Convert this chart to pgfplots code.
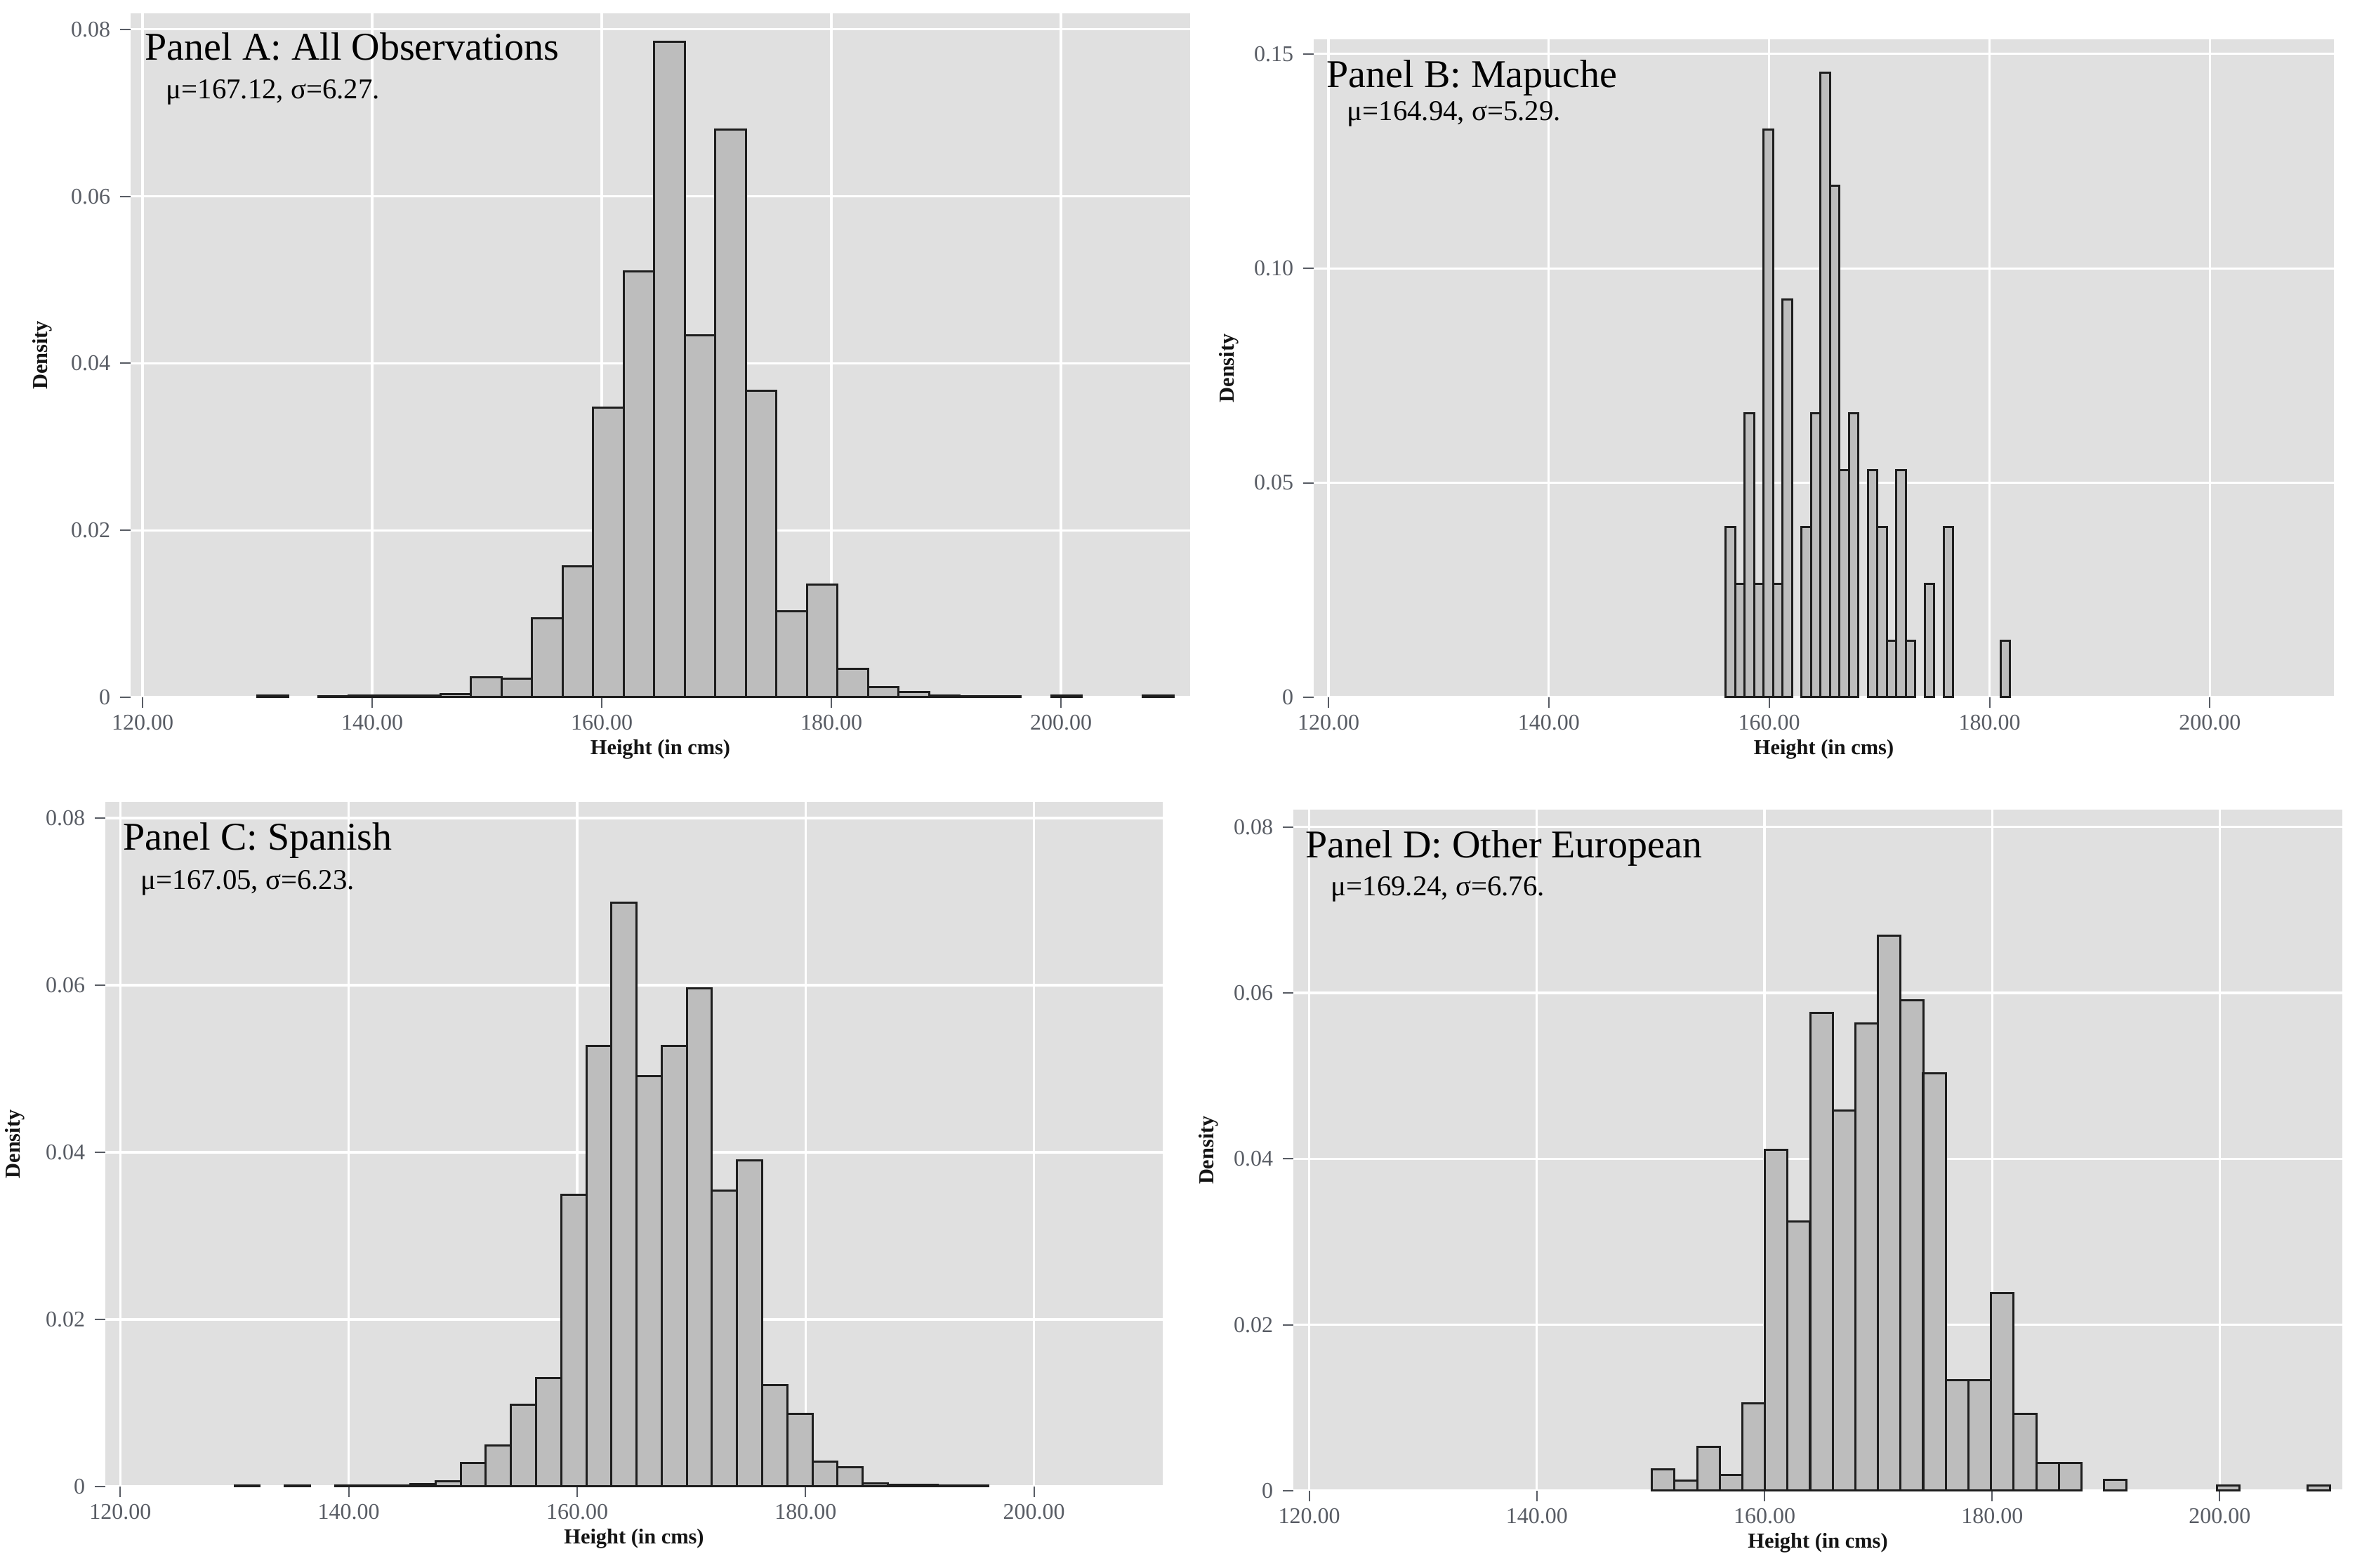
\documentclass[border=0pt]{standalone}
\usepackage{fontspec}
\setmainfont{Liberation Serif}
\usepackage{pgfplots}
\pgfplotsset{compat=1.18}
\definecolor{bgc}{RGB}{224,224,224}
\definecolor{barc}{RGB}{189,189,189}
\definecolor{barline}{RGB}{30,30,30}
\definecolor{tickc}{RGB}{88,92,100}
\tikzset{
  ttl/.style={anchor=base west, inner sep=0pt, font=\fontsize{14}{16}\selectfont, text=black},
  mu/.style={anchor=base west, inner sep=0pt, font=\fontsize{10.2}{12}\selectfont, text=black},
}
\pgfplotsset{
  panel/.style={
    scale only axis,
    anchor=south west,
    axis background/.style={fill=bgc},
    axis line style={draw=none},
    grid=major,
    major grid style={white, line width=0.8pt},
    tick style={draw=tickc, line width=0.5pt},
    tick align=outside,
    major tick length=3.75pt,
    tick pos=left,
    clip=false,
    scaled y ticks=false,
    scaled x ticks=false,
    xtick={120,140,160,180,200},
    xticklabels={120.00,140.00,160.00,180.00,200.00},
    ticklabel style={font=\fontsize{8}{9}\selectfont, text=tickc},
    xticklabel style={anchor=base, yshift=-8pt},
    yticklabel style={anchor=east, inner sep=0pt, xshift=-3.25pt},
    xlabel={Height (in cms)},
    ylabel={Density},
    label style={font=\fontsize{7.6}{9}\selectfont\bfseries, text=black!92},
    xlabel style={at={(axis description cs:0.5,0)}, anchor=center, yshift=-18.5pt},
    ymin=0,
  },
  hist/.style={ybar, bar shift=0pt, fill=barc, draw=barline, line width=0.75pt},
}
\begin{document}
\begin{tikzpicture}
\path[use as bounding box] (0,0) rectangle (841pt,558.25pt);

% Panel A
\begin{axis}[panel, at={(46.5pt,310pt)}, width=377.25pt, height=243.5pt,
  xmin=118.96, xmax=211.25, ymax=0.08193,
  ytick={0,0.02,0.04,0.06,0.08}, yticklabels={0,0.02,0.04,0.06,0.08},
  ylabel style={at={(axis description cs:0,0.5)}, anchor=center, yshift=31.5pt}]
\addplot[hist, bar width=2.66] coordinates {
(131.33,0.0002) (136.65,0.0001) (139.31,0.0002) (141.97,0.0002) (144.63,0.0002)
(147.29,0.0004) (149.95,0.0024) (152.61,0.0022) (155.27,0.0095) (157.93,0.0157)
(160.59,0.0347) (163.25,0.0510) (165.91,0.0785) (168.57,0.0434) (171.23,0.0680)
(173.89,0.0367) (176.55,0.0103) (179.21,0.0135) (181.87,0.0034) (184.53,0.0012)
(187.19,0.0006) (189.85,0.0002) (192.51,0.0001) (195.17,0.0001) (200.49,0.0002)
(208.47,0.0002)};
\node[ttl, xshift=5pt, yshift=-16.75pt] at (rel axis cs:0,1) {Panel A: All Observations};
\node[mu, xshift=12.5pt, yshift=-30.5pt] at (rel axis cs:0,1) {μ=167.12, σ=6.27.};
\end{axis}

% Panel B
\begin{axis}[panel, at={(467.75pt,310pt)}, width=363.25pt, height=234.25pt,
  xmin=118.66, xmax=211.26, ymax=0.1534,
  ytick={0,0.05,0.10,0.15}, yticklabels={0,0.05,0.10,0.15},
  ylabel style={at={(axis description cs:0,0.5)}, anchor=center, yshift=30.25pt}]
\addplot[hist, bar width=0.86] coordinates {
(156.48,0.0397) (157.34,0.0265) (158.20,0.0662) (159.06,0.0265) (159.92,0.1324)
(160.78,0.0265) (161.64,0.0927) (163.36,0.0397) (164.22,0.0662) (165.08,0.1456)
(165.94,0.1192) (166.80,0.0530) (167.66,0.0662) (169.38,0.0530) (170.24,0.0397)
(171.10,0.0132) (171.96,0.0530) (172.82,0.0132) (174.54,0.0265) (176.26,0.0397)
(181.42,0.0132)};
\node[ttl, xshift=4.5pt, yshift=-17.25pt] at (rel axis cs:0,1) {Panel B: Mapuche};
\node[mu, xshift=11.75pt, yshift=-29pt] at (rel axis cs:0,1) {μ=164.94, σ=5.29.};
\end{axis}

% Panel C
\begin{axis}[panel, at={(37.5pt,29pt)}, width=376.5pt, height=243.75pt,
  xmin=118.68, xmax=211.28, ymax=0.08193,
  ytick={0,0.02,0.04,0.06,0.08}, yticklabels={0,0.02,0.04,0.06,0.08},
  ylabel style={at={(axis description cs:0,0.5)}, anchor=center, yshift=32.25pt}]
\addplot[hist, bar width=2.2] coordinates {
(131.1,0.0001) (135.5,0.0001) (139.9,0.0001) (142.1,0.0001) (144.3,0.0001)
(146.5,0.0003) (148.7,0.0006) (150.9,0.0028) (153.1,0.0049) (155.3,0.0098)
(157.5,0.0130) (159.7,0.0349) (161.9,0.0527) (164.1,0.0699) (166.3,0.0491)
(168.5,0.0527) (170.7,0.0596) (172.9,0.0354) (175.1,0.0390) (177.3,0.0121)
(179.5,0.0087) (181.7,0.0030) (183.9,0.0023) (186.1,0.0004) (188.3,0.0002)
(190.5,0.0002) (192.7,0.0001) (194.9,0.0001)};
\node[ttl, xshift=6.25pt, yshift=-17.25pt] at (rel axis cs:0,1) {Panel C: Spanish};
\node[mu, xshift=12.5pt, yshift=-31.25pt] at (rel axis cs:0,1) {μ=167.05, σ=6.23.};
\end{axis}

% Panel D
\begin{axis}[panel, at={(460.5pt,27.5pt)}, width=373.5pt, height=242.5pt,
  xmin=118.6, xmax=210.77, ymax=0.0821,
  ytick={0,0.02,0.04,0.06,0.08}, yticklabels={0,0.02,0.04,0.06,0.08},
  ylabel style={at={(axis description cs:0,0.5)}, anchor=center, yshift=30.25pt}]
\addplot[hist, bar width=1.987] coordinates {
(151.09,0.0026) (153.08,0.0012) (155.07,0.0053) (157.05,0.0019) (159.04,0.0105)
(161.03,0.0411) (163.01,0.0325) (165.00,0.0576) (166.99,0.0458) (168.97,0.0563)
(170.96,0.0669) (172.95,0.0591) (174.93,0.0503) (176.92,0.0133) (178.91,0.0133)
(180.90,0.0238) (182.88,0.0093) (184.87,0.0033) (186.86,0.0033) (190.83,0.0013)
(200.76,0.0006) (208.71,0.0006)};
\node[ttl, xshift=4.25pt, yshift=-17.25pt] at (rel axis cs:0,1) {Panel D: Other European};
\node[mu, xshift=13.25pt, yshift=-30.75pt] at (rel axis cs:0,1) {μ=169.24, σ=6.76.};
\end{axis}
\end{tikzpicture}
\end{document}
